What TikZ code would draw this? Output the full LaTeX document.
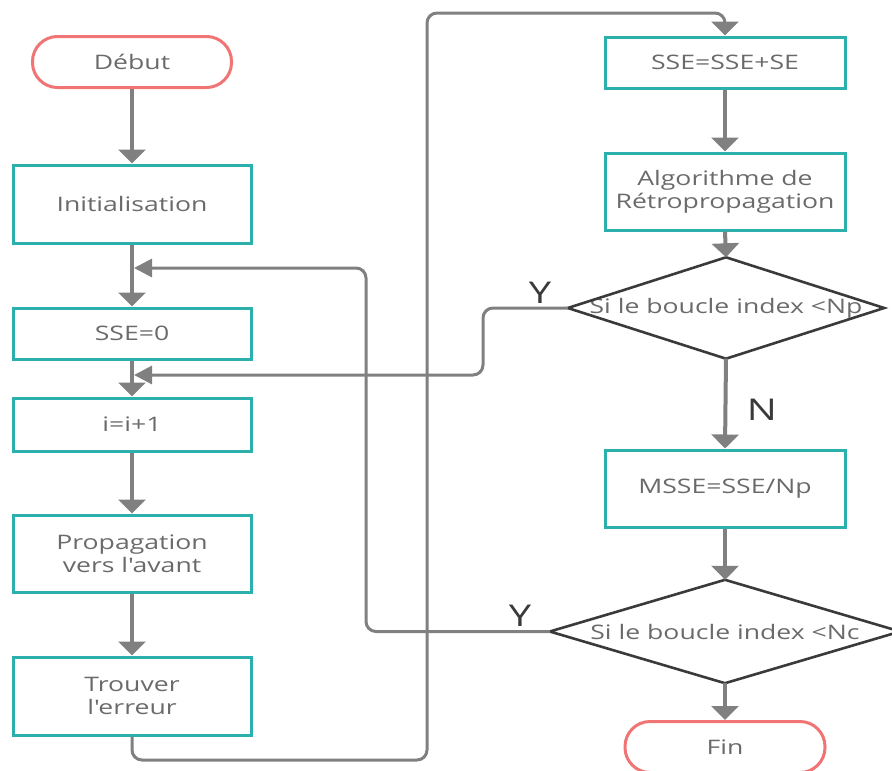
\documentclass[tikz,border=0pt]{standalone}
\usepackage{fontspec}
\setmainfont{Open Sans}[FakeStretch=1.33]
\usetikzlibrary{arrows.meta}
\definecolor{teal1}{HTML}{2BB0AD}
\definecolor{red1}{HTML}{F07474}
\definecolor{arr}{HTML}{808080}
\definecolor{txt}{HTML}{6A6A6A}
\definecolor{dark}{HTML}{3A3A3A}
\begin{document}
\begin{tikzpicture}[x=1pt,y=-1pt,
  proc/.style={draw=teal1, line width=3pt, rectangle, minimum width=238pt, inner sep=0pt, text=txt, align=center, font=\fontsize{20}{23}\selectfont},
  term/.style={draw=red1, line width=3pt, rectangle, rounded corners=25pt, minimum width=199pt, minimum height=51pt, inner sep=0pt, text=txt, font=\fontsize{20}{23}\selectfont},
  decbox/.style={rectangle, inner sep=0pt, text=txt, font=\fontsize{20}{23}\selectfont},
  decline/.style={draw=dark, line width=2.6pt, line join=miter},
  flow/.style={draw=arr, line width=4pt, -{Triangle[width=27pt,length=14pt]}},
  loop/.style={draw=arr, line width=3pt, rounded corners=10pt},
  looparr/.style={loop, -{Triangle[width=18pt,length=18pt]}},
  lab/.style={text=dark, font=\fontsize{30}{30}\selectfont, inner sep=0pt}
]
\useasboundingbox (0,0) rectangle (892,771);
\clip (0,0) rectangle (892,771);

% left column
\node[term] (debut) at (132,62) {Début};
\node[proc, minimum height=78pt] (init) at (132,204) {Initialisation};
\node[proc, minimum height=51pt] (sse0) at (132,333.5) {SSE=0};
\node[proc, minimum height=53pt] (inc) at (132,424.5) {i=i+1};
\node[proc, minimum height=77pt] (prop) at (132,553.5) {Propagation\\vers l\textquotesingle avant};
\node[proc, minimum height=78pt] (trouv) at (132,696) {Trouver\\l\textquotesingle erreur};

% right column
\node[proc, minimum width=240pt, minimum height=51pt] (ssese) at (725,62.5) {SSE=SSE+SE};
\node[proc, minimum width=240pt, minimum height=77pt] (algo) at (725,191.5) {Algorithme de\\Rétropropagation};
\node[decbox, minimum width=316pt, minimum height=101pt] (np) at (726,308) {Si le boucle index <Np};
\draw[decline] (np.north) -- (np.east) -- (np.south) -- (np.west) -- cycle;
\node[proc, minimum width=240pt, minimum height=77pt] (msse) at (725,488.5) {MSSE=SSE/Np};
\node[decbox, minimum width=350pt, minimum height=103pt] (nc) at (725,631.5) {Si le boucle index <Nc};
\draw[decline] (nc.north) -- (nc.east) -- (nc.south) -- (nc.west) -- cycle;
\node[term, minimum width=200pt] (fin) at (725,747) {Fin};

% joins
\coordinate (j1) at (134,268);
\coordinate (j2) at (134,375);
\coordinate (b1) at (132,760);
\coordinate (b2) at (427,760);
\coordinate (b3) at (427,13);
\coordinate (b4) at (725,13);
\coordinate (p1) at (483,308);
\coordinate (p2) at (483,375);
\coordinate (c1) at (366,631.5);
\coordinate (c2) at (366,268);

% loops (drawn first)
\draw[looparr] (nc.west) -- (c1) -- (c2) -- (j1);
\draw[looparr] (np.west) -- (p1) -- (p2) -- (j2);
\draw[loop, -{Triangle[width=27pt,length=14pt]}] (trouv.south) -- (b1) -- (b2) -- (b3) -- (b4) -- (ssese.north);

% main flow
\draw[flow] (debut.south) -- (init.north);
\draw[flow] (init.south) -- (sse0.north);
\draw[flow] (sse0.south) -- (inc.north);
\draw[flow] (inc.south) -- (prop.north);
\draw[flow] (prop.south) -- (trouv.north);
\draw[flow] (ssese.south) -- (algo.north);
\draw[flow] (algo.south) -- (np.north);
\draw[flow] (np.south) -- (msse.north);
\draw[flow] (msse.south) -- (nc.north);
\draw[flow] (nc.south) -- (fin.north);

% labels
\node[lab] (ly1) at (540,293) {Y};
\node[lab] (ly2) at (520,616) {Y};
\node[lab] (ln) at (762,410) {N};
\end{tikzpicture}
\end{document}
